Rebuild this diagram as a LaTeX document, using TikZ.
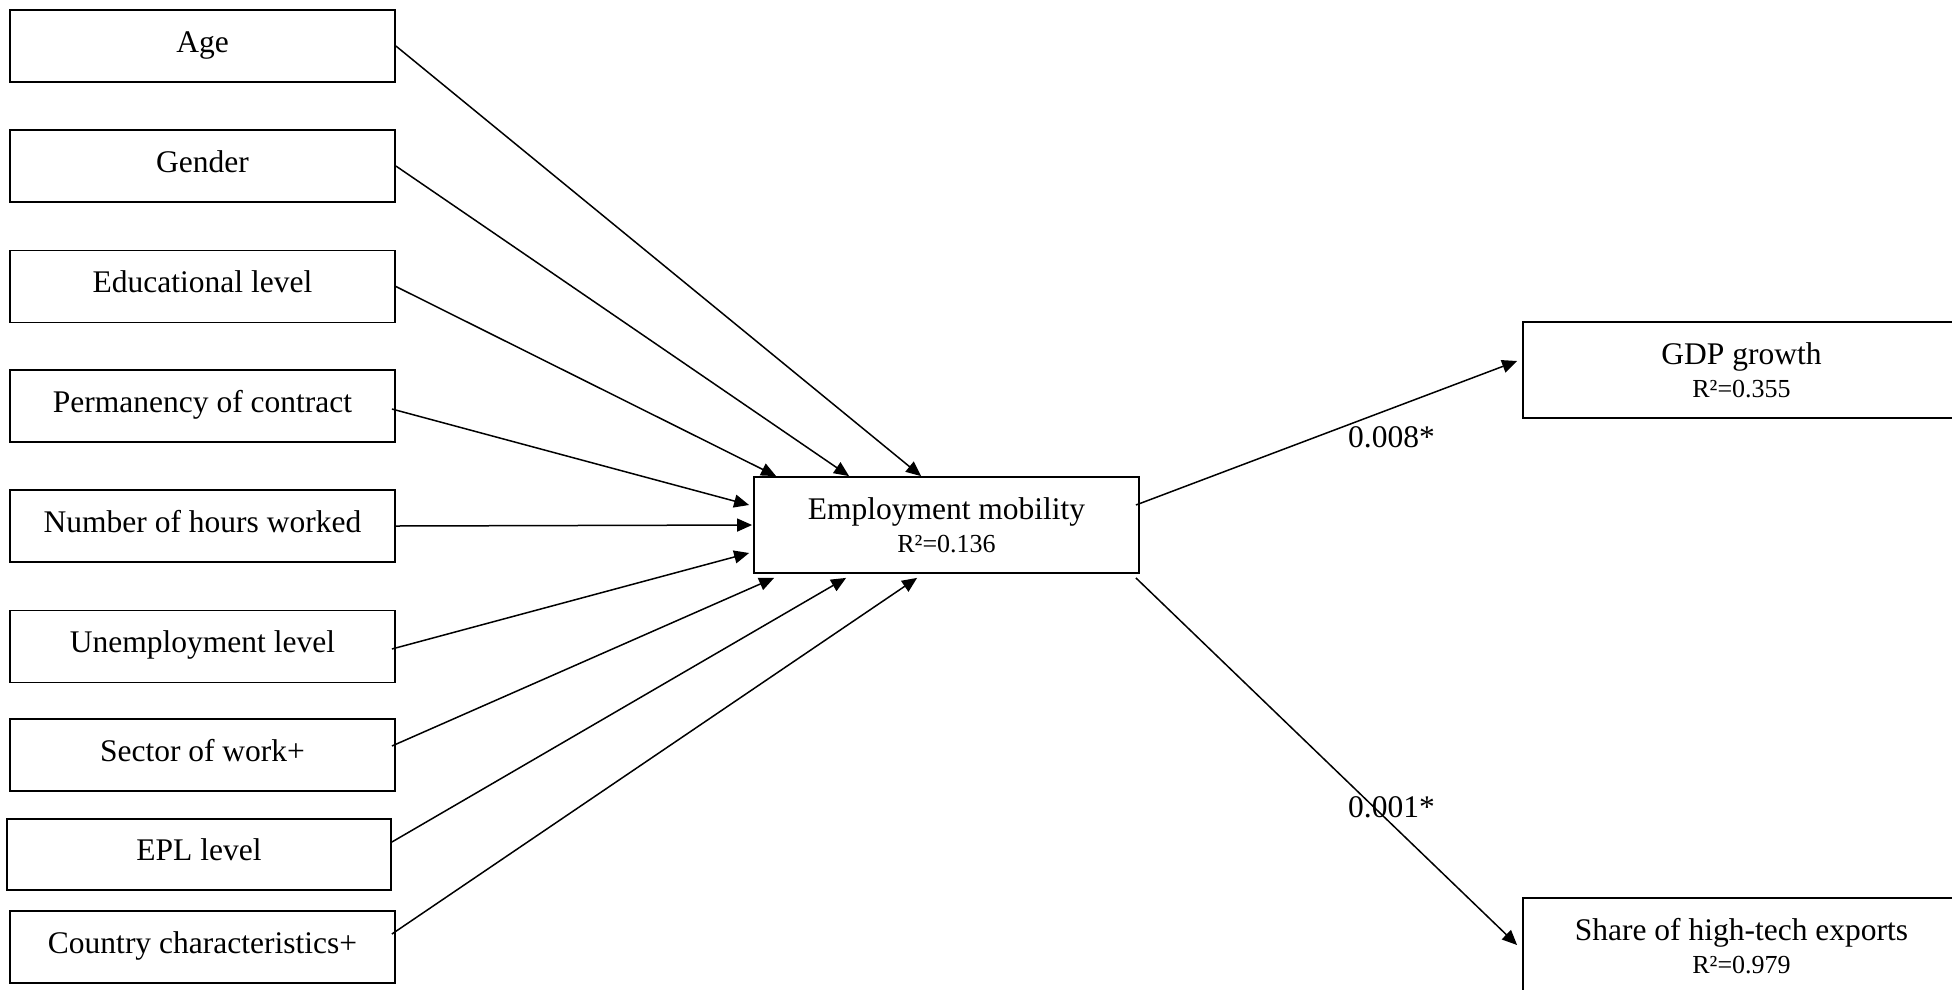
\documentclass[tikz,border=0pt]{standalone}
\usepackage{fontspec}
\setmainfont{Liberation Serif}
\usetikzlibrary{arrows.meta}
\tikzset{
  box/.style={draw, line width=1.8pt, inner sep=0pt, minimum width=385pt, minimum height=72pt,
    text height=22pt, text depth=10pt, font=\fontsize{31.5}{33}\selectfont},
  bigbox/.style={draw, line width=1.8pt, inner sep=0pt, minimum height=96pt, align=center,
    font=\fontsize{31.5}{33}\selectfont},
  sub/.style={font=\fontsize{26}{33}\selectfont},
  conn/.style={line width=1.5pt, -{Triangle[length=15pt,width=13pt]}},
  coef/.style={font=\fontsize{31.5}{33}\selectfont, inner sep=0pt, anchor=base}
}
\begin{document}
\begin{tikzpicture}[x=1pt,y=-1pt]
\useasboundingbox (0,0) rectangle (1952,989);
\fill[white] (0,0) rectangle (1952,989);
% left boxes
\node[box] (age)  at (202.5,46)  {Age};
\node[box] (gen)  at (202.5,166) {Gender};
\node[box] (edu)  at (202.5,286.5) {Educational level};
\node[box] (perm) at (202.5,406) {Permanency of contract};
\node[box] (hrs)  at (202.5,526) {Number of hours worked};
\node[box] (unem) at (202.5,646.5) {Unemployment level};
\node[box] (sect) at (202.5,755) {Sector of work+};
\node[box, minimum width=384pt, minimum height=71pt] (epl) at (199,854.5) {EPL level};
\node[box] (ctry) at (202.5,947) {Country characteristics+};
% centre and right boxes
\node[bigbox, minimum width=385pt] (emp) at (946.5,525) {Employment mobility\\{\fontsize{26}{33}\selectfont R²=0.136}};
\node[bigbox, minimum width=437pt] (gdp) at (1741.5,370) {GDP growth\\{\fontsize{26}{33}\selectfont R²=0.355}};
\node[bigbox, minimum width=437pt] (share) at (1741.5,946) {Share of high-tech exports\\{\fontsize{26}{33}\selectfont R²=0.979}};
% connectors into employment mobility
\draw[conn] (age.east) -- ([xshift=168pt]emp.north west);
\draw[conn] (gen.east) -- ([xshift=96pt]emp.north west);
\draw[conn] (edu.east) -- ([xshift=23pt]emp.north west);
\draw[conn] ([xshift=-4pt,yshift=-3pt]perm.east) -- ([xshift=-4pt,yshift=20pt]emp.west);
\draw[conn] (hrs.east) -- ([xshift=-1pt]emp.west);
\draw[conn] ([xshift=-4pt,yshift=-2.5pt]unem.east) -- ([xshift=-4pt,yshift=-28pt]emp.west);
\draw[conn] ([xshift=-4pt,yshift=9pt]sect.east) -- ([xshift=21pt,yshift=-4pt]emp.south west);
\draw[conn] ([yshift=12.5pt]epl.east) -- ([xshift=93pt,yshift=-4pt]emp.south west);
\draw[conn] ([xshift=-4pt,yshift=13pt]ctry.east) -- ([xshift=164pt,yshift=-4pt]emp.south west);
% outcome connectors
\draw[conn] ([xshift=-4pt,yshift=20pt]emp.east) -- ([xshift=-5pt,yshift=9pt]gdp.west);
\draw[conn] ([xshift=-4pt,yshift=-4pt]emp.south east) -- ([xshift=-5pt,yshift=1pt]share.west);
% coefficients
\node[coef] (c1) at (1391.5,447) {0.008*};
\node[coef] (c2) at (1391.5,817) {0.001*};
\end{tikzpicture}
\end{document}
